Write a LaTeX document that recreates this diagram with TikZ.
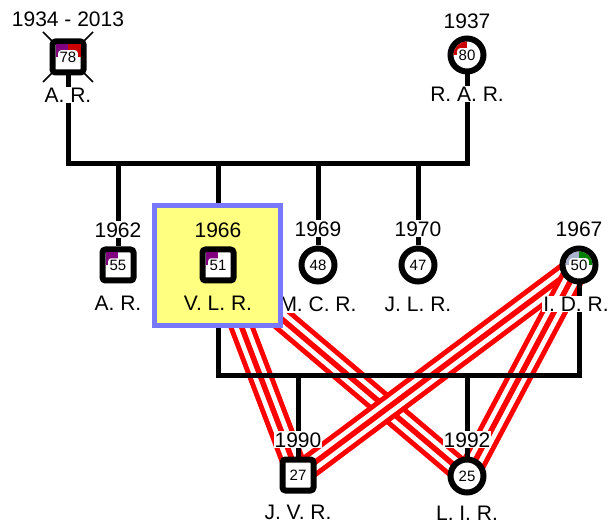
\documentclass[tikz,border=0pt]{standalone}
\usepackage{fontspec}
\setmainfont{Liberation Sans}
\usetikzlibrary{calc, positioning, backgrounds}
\definecolor{markpurple}{RGB}{128,0,128}
\definecolor{markred}{RGB}{204,0,0}
\definecolor{markgreen}{RGB}{0,128,0}
\definecolor{marksteel}{RGB}{168,178,204}
\definecolor{focusyellow}{RGB}{255,255,128}
\definecolor{focusblue}{RGB}{120,120,255}
\definecolor{bloodred}{RGB}{255,0,0}

\begin{document}
\begin{tikzpicture}[
    x=1pt, y=-1pt,
    font=\fontsize{21}{24}\selectfont,
    node distance=8pt,
    male/.style={rectangle, rounded corners=3pt, draw, line width=6pt, fill=white,
                 minimum size=31pt, inner sep=0pt},
    female/.style={circle, draw, line width=6pt, fill=white,
                   minimum size=33pt, inner sep=0pt},
    agebox/.style={rectangle, rounded corners=3pt, fill=white, inner sep=1.5pt,
                   font=\fontsize{15}{16}\selectfont},
    lbl/.style={fill=white, inner sep=1pt},
    famline/.style={line width=5pt},
    deadline/.style={line width=1.5pt},
    bloodline/.style={bloodred, line width=25pt,
                      postaction={draw=white, line width=15pt},
                      postaction={draw=bloodred, line width=5.5pt}},
    focusbox/.style={fill=focusyellow, draw=focusblue, line width=5pt}
]
\useasboundingbox (0,0) rectangle (610,526);
\def\sqin{12.5}
\def\cin{13.5}

% Top generation
\node[male] (ar) at (68,57) {};
\node[female] (rar) at (467,55) {};
\fill[markpurple] (ar.center) rectangle ++(-\sqin,-\sqin);
\fill[markred] (ar.center) rectangle ++(\sqin,-\sqin);
\begin{scope}
  \clip (rar.center) circle[radius=\cin];
  \fill[markred] (rar.center) rectangle ++(-14,-14);
\end{scope}
\node[agebox] (arage) at (ar) {78};
\node[agebox] (rarage) at (rar) {80};
\node[lbl, above=11pt of ar] (aryr) {1934 - 2013};
\node[lbl, below=11pt of ar] (arname) {A. R.};
\node[lbl, above=6pt of rar] (raryr) {1937};
\node[lbl, below=11pt of rar] (rarname) {R. A. R.};

% Children row (V. L. R. comes after the focus box)
\node[male] (arjr) at (118,265) {};
\node[female] (mcr) at (318,265) {};
\node[female] (jlr) at (418,265) {};
\node[female] (idr) at (579,265) {};
\fill[markpurple] (arjr.center) rectangle ++(-\sqin,-\sqin);
\begin{scope}
  \clip (idr.center) circle[radius=\cin];
  \fill[marksteel] (idr.center) rectangle ++(-14,-14);
  \fill[markgreen] (idr.center) rectangle ++(14,-14);
\end{scope}
\node[agebox] (arjrage) at (arjr) {55};
\node[agebox] (mcrage) at (mcr) {48};
\node[agebox] (jlrage) at (jlr) {47};
\node[agebox] (idrage) at (idr) {50};
\node[lbl, above=of arjr] (arjryr) {1962};
\node[lbl, below=11pt of arjr] (arjrname) {A. R.};
\node[lbl, above=of mcr] (mcryr) {1969};
\node[lbl, below=11pt of mcr] (mcrname) {M. C. R.};
\node[lbl, above=of jlr] (jlryr) {1970};
\node[lbl, below=11pt of jlr] (jlrname) {J. L. R.};
\node[lbl, above=of idr] (idryr) {1967};
\node[lbl, below=11pt of idr, xshift=-3pt] (idrname) {I. D. R.};

% Focus person, highlighted
\coordinate (vlrpos) at (218,265);
\draw[focusbox] ($(vlrpos)+(-63.5,-59.5)$) rectangle ($(vlrpos)+(62.5,60.5)$);
\node[male] (vlr) at (vlrpos) {};
\fill[markpurple] (vlr.center) rectangle ++(-\sqin,-\sqin);
\node[agebox] (vlrage) at (vlr) {51};
\node[lbl, fill=none, above=of vlr] (vlryr) {1966};
\node[lbl, fill=none, below=11pt of vlr] (vlrname) {V. L. R.};

% Grandchildren
\node[male] (jvr) at (298,475) {};
\node[female] (lir) at (467,476) {};
\node[agebox] (jvrage) at (jvr) {27};
\node[agebox] (lirage) at (lir) {25};
\node[lbl, above=of jvr] (jvryr) {1990};
\node[lbl, below=10pt of jvr] (jvrname) {J. V. R.};
\node[lbl, above=of lir] (liryr) {1992};
\node[lbl, below=9pt of lir] (lirname) {L. I. R.};

\begin{scope}[on background layer]
  % striped lines, parents to grandchildren
  \foreach \p in {vlr, idr}
    \foreach \c in {jvr, lir}
      \draw[bloodline] (\p.center) -- (\c.center);
  % first family
  \coordinate (fam1) at (267,164);
  \draw[famline] (ar) |- (fam1) -| (rar);
  \foreach \c in {arjr, vlr, mcr, jlr}
    \draw[famline] (fam1 -| \c) -- (\c);
  % second family
  \coordinate (fam2) at (398,375);
  \draw[famline] (vlr) |- (fam2) -| (idr);
  \foreach \c in {jvr, lir}
    \draw[famline] (fam2 -| \c) -- (\c);
  % deceased cross
  \draw[deadline] ($(ar)+(-25,-25)$) -- ($(ar)+(25,25)$);
  \draw[deadline] ($(ar)+(25,-25)$) -- ($(ar)+(-25,25)$);
\end{scope}
\end{tikzpicture}
\end{document}
